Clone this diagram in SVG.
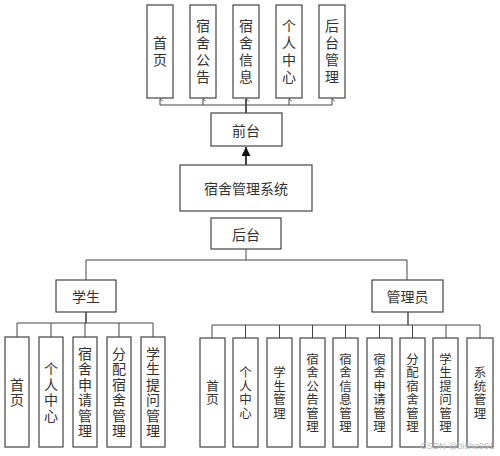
<svg xmlns="http://www.w3.org/2000/svg" width="500" height="456" viewBox="0 0 500 456">
<defs>
<style>
.box{fill:#fff;stroke:#444;stroke-width:1.2}
.ln{fill:none;stroke:#444;stroke-width:1}
.t{font-family:"Noto Sans CJK SC","Noto Sans CJK JP",sans-serif;fill:#333;text-anchor:middle;dominant-baseline:central}
.v{font-family:"Noto Sans CJK SC","Noto Sans CJK JP",sans-serif;fill:#333;text-anchor:middle;writing-mode:vertical-rl;text-orientation:upright}
.vt{font-size:14px;letter-spacing:3px}
.vs{font-size:14px;letter-spacing:1.5px}
.va{font-size:12.5px;letter-spacing:1px}
.t14{font-size:14px}
.wm{font-family:"Liberation Sans",sans-serif;font-size:9px;fill:#bbb;text-anchor:end}
</style>
<marker id="open" viewBox="0 0 8 8" refX="4" refY="1" markerWidth="6" markerHeight="6" orient="auto-start-reverse" markerUnits="userSpaceOnUse">
<path d="M1,5 L4,1 L7,5" fill="none" stroke="#444" stroke-width="1"/>
</marker>
<marker id="fill" viewBox="0 0 10 10" refX="5" refY="0" markerWidth="9" markerHeight="10" markerUnits="userSpaceOnUse">
<path d="M0,10 L5,0 L10,10 Z" fill="#111"/>
</marker>
</defs>
<rect width="500" height="456" fill="#fff"/>
<g id="connectors">
<path class="ln" d="M160,105 H332"/>
<path class="ln" d="M160,105 V99" marker-end="url(#open)"/>
<path class="ln" d="M203,105 V99" marker-end="url(#open)"/>
<path class="ln" d="M289,105 V99" marker-end="url(#open)"/>
<path class="ln" d="M332,105 V99" marker-end="url(#open)"/>
<path class="ln" d="M246,113 V99" style="stroke-width:1.8" marker-end="url(#open)"/>
<path class="ln" d="M246,165 V147" style="stroke:#111;stroke-width:1.6" marker-end="url(#fill)"/>
<path class="ln" d="M246,249 V260 M86,260 H407 M86,260 V280 M407,260 V280"/>
<path class="ln" d="M86,312 V323" style="stroke-width:1.6"/>
<path class="ln" d="M17,323 H153 M17,323 V337 M51,323 V337 M85,323 V337 M119,323 V337 M153,323 V337"/>
<path class="ln" d="M408,312 V325" style="stroke-width:1.4"/>
<path class="ln" d="M212,325 H480 M212,325 V338 M245.5,325 V338 M279.5,325 V338 M312.5,325 V338 M345.5,325 V338 M379.5,325 V338 M412.5,325 V338 M446,325 V338 M480,325 V338"/>
</g>
<g id="top-shouye"><rect class="box" x="147" y="5" width="26" height="93"/><text class="v vt" x="160" y="53">首页</text></g>
<g id="top-gonggao"><rect class="box" x="190" y="5" width="26" height="93"/><text class="v vt" x="203" y="53">宿舍公告</text></g>
<g id="top-xinxi"><rect class="box" x="233" y="5" width="26" height="93"/><text class="v vt" x="246" y="53">宿舍信息</text></g>
<g id="top-geren"><rect class="box" x="276" y="5" width="26" height="93"/><text class="v vt" x="289" y="53">个人中心</text></g>
<g id="top-houtai"><rect class="box" x="319" y="5" width="26" height="93"/><text class="v vt" x="332" y="53">后台管理</text></g>
<g id="qiantai"><rect class="box" x="211" y="113" width="71" height="33"/><text class="t t14" x="246" y="130">前台</text></g>
<g id="system"><rect class="box" x="180" y="165" width="132" height="46"/><text class="t t14" x="246" y="188">宿舍管理系统</text></g>
<g id="houtai"><rect class="box" x="211" y="218" width="70" height="31"/><text class="t t14" x="246" y="234">后台</text></g>
<g id="student"><rect class="box" x="56" y="280" width="60" height="32"/><text class="t t14" x="86" y="296">学生</text></g>
<g id="admin"><rect class="box" x="372" y="280" width="71" height="32"/><text class="t t14" x="407.5" y="296">管理员</text></g>
<g id="s-shouye"><rect class="box" x="5" y="337" width="24" height="110"/><text class="v vs" x="17" y="393">首页</text></g>
<g id="s-geren"><rect class="box" x="39" y="337" width="24" height="110"/><text class="v vs" x="51" y="393">个人中心</text></g>
<g id="s-shenqing"><rect class="box" x="73" y="337" width="24" height="110"/><text class="v vs" x="85" y="393">宿舍申请管理</text></g>
<g id="s-fenpei"><rect class="box" x="107" y="337" width="24" height="110"/><text class="v vs" x="119" y="393">分配宿舍管理</text></g>
<g id="s-tiwen"><rect class="box" x="141" y="337" width="24" height="110"/><text class="v vs" x="153" y="393">学生提问管理</text></g>
<g id="a-shouye"><rect class="box" x="200" y="338" width="25" height="109"/><text class="v va" x="212.5" y="393">首页</text></g>
<g id="a-geren"><rect class="box" x="233" y="338" width="25" height="109"/><text class="v va" x="245.5" y="393">个人中心</text></g>
<g id="a-xuesheng"><rect class="box" x="267" y="338" width="25" height="109"/><text class="v va" x="279.5" y="393">学生管理</text></g>
<g id="a-gonggao"><rect class="box" x="300" y="338" width="25" height="109"/><text class="v va" x="312.5" y="393">宿舍公告管理</text></g>
<g id="a-xinxi"><rect class="box" x="333" y="338" width="25" height="109"/><text class="v va" x="345.5" y="393">宿舍信息管理</text></g>
<g id="a-shenqing"><rect class="box" x="367" y="338" width="25" height="109"/><text class="v va" x="379.5" y="393">宿舍申请管理</text></g>
<g id="a-fenpei"><rect class="box" x="400" y="338" width="25" height="109"/><text class="v va" x="412.5" y="393">分配宿舍管理</text></g>
<g id="a-tiwen"><rect class="box" x="433" y="338" width="25" height="109"/><text class="v va" x="445.5" y="393">学生提问管理</text></g>
<g id="a-xitong"><rect class="box" x="467" y="338" width="26" height="109"/><text class="v va" x="480" y="393">系统管理</text></g>
<text class="wm" x="494" y="449">CSDN @bishe991</text>
</svg>
